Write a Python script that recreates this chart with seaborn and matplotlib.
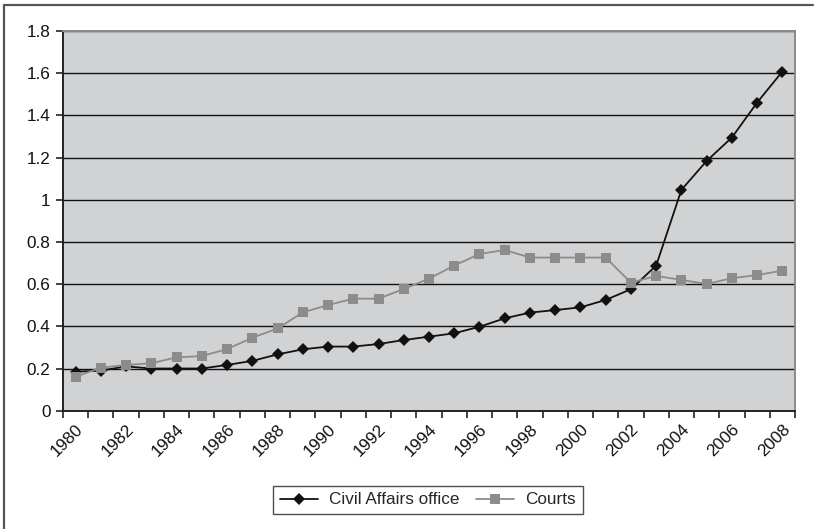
import matplotlib
matplotlib.use("Agg")
import matplotlib.pyplot as plt
from matplotlib.lines import Line2D
import seaborn as sns
import pandas as pd
import numpy as np

years = list(range(1980, 2009))
civil_affairs = [0.185, 0.19, 0.21, 0.20, 0.20, 0.20, 0.217, 0.236, 0.267, 0.291,
                 0.304, 0.304, 0.316, 0.335, 0.351, 0.367, 0.398, 0.438, 0.465, 0.477,
                 0.49, 0.525, 0.576, 0.688, 1.047, 1.184, 1.295, 1.461, 1.608]
courts = [0.161, 0.204, 0.217, 0.225, 0.253, 0.259, 0.292, 0.346, 0.39, 0.466,
          0.501, 0.531, 0.531, 0.577, 0.626, 0.688, 0.743, 0.762, 0.726, 0.726,
          0.726, 0.726, 0.607, 0.639, 0.62, 0.601, 0.628, 0.643, 0.664]
series_names = ["Civil Affairs office", "Courts"]
y_ticks = [0, 0.2, 0.4, 0.6, 0.8, 1, 1.2, 1.4, 1.6, 1.8]

sns.set_theme(style="white")
plt.rcParams["font.family"] = ["Liberation Sans", "DejaVu Sans"]

df = pd.DataFrame({
    "pos": list(range(len(years))) * 2,
    "value": civil_affairs + courts,
    "series": [series_names[0]] * len(years) + [series_names[1]] * len(years),
})

W, H = 814, 529
FS = 12.3
fig = plt.figure(figsize=(W / 100, H / 100), dpi=100)
fig.patch.set_facecolor("white")

# outer frame (left and top edges)
fig.add_artist(Line2D([4 / W, 4 / W], [0, 1 - 5 / H], transform=fig.transFigure,
                      color="#555555", lw=1.6))
fig.add_artist(Line2D([4 / W, 813 / W], [1 - 5 / H, 1 - 5 / H], transform=fig.transFigure,
                      color="#555555", lw=1.6))

left, right, top, bottom = 63, 795, 31, 410.7
ax = fig.add_axes([left / W, 1 - bottom / H, (right - left) / W, (bottom - top) / H])
ax.set_facecolor("#d1d2d4")

palette = {series_names[0]: "#111111", series_names[1]: "#8c8c8c"}
markers = {series_names[0]: "D", series_names[1]: "s"}
sns.lineplot(data=df, x="pos", y="value", hue="series", style="series",
             palette=palette, markers=markers, dashes=False, ax=ax,
             linewidth=1.3, markersize=7, markeredgewidth=0, legend=False,
             zorder=3)
# diamond markers are drawn slightly smaller
for line in ax.lines:
    if line.get_marker() == "D":
        line.set_markersize(6)

ax.set_xlim(-0.5, len(years) - 0.5)
ax.set_ylim(0, 1.8)
ax.set_yticks(y_ticks)
ax.set_yticklabels([f"{t:g}" for t in y_ticks], fontsize=FS, color="#111111")
ax.yaxis.grid(True, color="#111111", linewidth=1.0)
ax.xaxis.grid(False)
ax.set_axisbelow(True)

label_pos = [i for i, y in enumerate(years) if y % 2 == 0]
ax.set_xticks(label_pos)
ax.set_xticklabels([str(years[i]) for i in label_pos], rotation=45,
                   ha="right", va="top", rotation_mode="anchor", fontsize=FS,
                   color="#111111")
ax.set_xticks(np.arange(-0.5, len(years), 1.0), minor=True)
ax.tick_params(axis="x", which="major", length=0, pad=8)
ax.tick_params(axis="x", which="minor", length=5, width=1.2, color="#222222",
               direction="out", bottom=True)
ax.tick_params(axis="y", which="major", length=5, width=1.2, color="#222222",
               direction="out", left=True, pad=4)
ax.set_xlabel("")
ax.set_ylabel("")

for side in ["left", "bottom"]:
    ax.spines[side].set_color("#222222")
    ax.spines[side].set_linewidth(1.4)
for side in ["top", "right"]:
    ax.spines[side].set_color("#8a8a8a")
    ax.spines[side].set_linewidth(1.4)

handles = [Line2D([], [], color=palette[n], marker=markers[n], lw=1.3,
                  markersize=6 if markers[n] == "D" else 7, markeredgewidth=0)
           for n in series_names]
leg = fig.legend(handles, series_names, loc="center", ncol=2,
                 bbox_to_anchor=(428 / W, 1 - 500 / H), fontsize=FS,
                 frameon=True, fancybox=False, handlelength=2.2,
                 columnspacing=1.0, borderpad=0.4, handletextpad=0.65)
leg.get_frame().set_edgecolor("#222222")
leg.get_frame().set_linewidth(1.0)

fig.savefig("out.png", dpi=100)
